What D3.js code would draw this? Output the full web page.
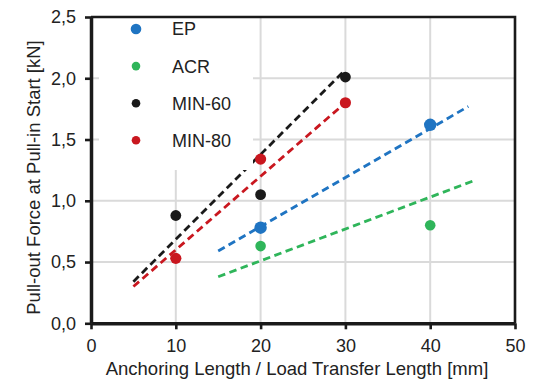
<!DOCTYPE html>
<html>
<head>
<meta charset="utf-8">
<script src="https://cdn.jsdelivr.net/npm/d3@7"></script>
<style>
  html, body { margin: 0; padding: 0; background: #fff; }
  svg { display: block; font-family: "Liberation Sans", Arial, sans-serif; }
</style>
</head>
<body>
<svg id="chart" width="550" height="380"></svg>
<script>
// Pull-out force vs. anchoring length, four adhesive systems
const seriesNames = ["EP", "ACR", "MIN-60", "MIN-80"];
const seriesColors = ["#1f74c2", "#2fb55a", "#1a1a1a", "#c9171f"];

const lengthEP = [20, 40];
const forceEP = [0.78, 1.62];
const lengthACR = [20, 40];
const forceACR = [0.63, 0.80];
const lengthMIN60 = [10, 20, 30];
const forceMIN60 = [0.88, 1.05, 2.01];
const lengthMIN80 = [10, 20, 30];
const forceMIN80 = [0.53, 1.34, 1.80];

// Dashed trend lines (start / end)
const trendLengthEP = [15, 44.5];
const trendForceEP = [0.59, 1.77];
const trendLengthACR = [15, 45];
const trendForceACR = [0.38, 1.16];
const trendLengthMIN60 = [5, 30];
const trendForceMIN60 = [0.34, 2.07];
const trendLengthMIN80 = [5, 30];
const trendForceMIN80 = [0.30, 1.80];

const xTickValues = [0, 10, 20, 30, 40, 50];
const yTickValues = [0, 0.5, 1.0, 1.5, 2.0, 2.5];

const xTitle = "Anchoring Length / Load Transfer Length [mm]";
const yTitle = "Pull-out Force at Pull-in Start [kN]";

const points = [
  { name: "EP", x: lengthEP, y: forceEP, tx: trendLengthEP, ty: trendForceEP, r: 6.2 },
  { name: "ACR", x: lengthACR, y: forceACR, tx: trendLengthACR, ty: trendForceACR, r: 5.3 },
  { name: "MIN-60", x: lengthMIN60, y: forceMIN60, tx: trendLengthMIN60, ty: trendForceMIN60, r: 5.4 },
  { name: "MIN-80", x: lengthMIN80, y: forceMIN80, tx: trendLengthMIN80, ty: trendForceMIN80, r: 5.6 }
];

const svg = d3.select("#chart");
const plotLeft = 91, plotRight = 515, plotTop = 17, plotBottom = 323.3;
const textColor = "#222";

const x = d3.scaleLinear().domain([0, 50]).range([plotLeft, plotRight]);
const y = d3.scaleLinear().domain([0, 2.5]).range([plotBottom, plotTop]);
const color = d3.scaleOrdinal().domain(seriesNames).range(seriesColors);

const locale = d3.formatLocale({ decimal: ",", thousands: ".", grouping: [3], currency: ["", "€"] });
const fmtY = locale.format(".1f");

// Grid
const grid = svg.append("g");
grid.selectAll("line.v").data(xTickValues.slice(1, -1)).join("line")
  .attr("class", "v")
  .attr("x1", d => x(d)).attr("x2", d => x(d))
  .attr("y1", plotTop).attr("y2", plotBottom)
  .attr("stroke", "#dadada").attr("stroke-width", 2);
grid.selectAll("line.h").data(yTickValues.slice(1, -1)).join("line")
  .attr("class", "h")
  .attr("x1", plotLeft).attr("x2", plotRight)
  .attr("y1", d => y(d)).attr("y2", d => y(d))
  .attr("stroke", "#dadada").attr("stroke-width", 2);

// Trend lines
const line = d3.line().x(d => x(d[0])).y(d => y(d[1]));
svg.append("g").selectAll("path").data(points).join("path")
  .attr("d", s => line(s.tx.map((v, i) => [v, s.ty[i]])))
  .attr("fill", "none")
  .attr("stroke", s => color(s.name))
  .attr("stroke-width", 2.8)
  .attr("stroke-dasharray", "7.5,4.5");

// Legend (opaque box above grid and trend lines)
const legend = svg.append("g");
legend.append("rect")
  .attr("x", 99).attr("y", plotTop + 1).attr("width", 154).attr("height", 152)
  .attr("fill", "#fff");
const legendRows = legend.selectAll("g.row").data(seriesNames).join("g")
  .attr("class", "row")
  .attr("transform", (d, i) => `translate(136, ${29 + i * 37.1})`);
legendRows.append("circle")
  .attr("r", (d, i) => i === 0 ? 5.3 : 4.3)
  .attr("fill", d => color(d));
legendRows.append("text")
  .attr("x", 36).attr("dy", "0.36em")
  .attr("font-size", 18).attr("fill", textColor)
  .text(d => d);

// Data points
const pg = svg.append("g");
points.forEach(s => {
  pg.append("g").selectAll("circle").data(s.x.map((v, i) => [v, s.y[i]])).join("circle")
    .attr("cx", d => x(d[0])).attr("cy", d => y(d[1]))
    .attr("r", s.r).attr("fill", color(s.name));
});

// Frame top / right
svg.append("path")
  .attr("d", `M${plotLeft},${plotTop}H${plotRight}V${plotBottom}`)
  .attr("fill", "none").attr("stroke", "#1a1a1a").attr("stroke-width", 2.6);

// Axes
const xAxis = svg.append("g").attr("transform", `translate(0,${plotBottom})`)
  .call(d3.axisBottom(x).tickValues(xTickValues).tickSize(6).tickSizeOuter(0).tickPadding(10).tickFormat(d3.format("d")));
const yAxis = svg.append("g").attr("transform", `translate(${plotLeft},0)`)
  .call(d3.axisLeft(y).tickValues(yTickValues).tickSize(6).tickSizeOuter(0).tickPadding(9).tickFormat(fmtY));

[xAxis, yAxis].forEach(a => {
  a.select(".domain").attr("stroke", "#1a1a1a").attr("stroke-width", 3.5);
  a.selectAll(".tick line").attr("stroke", "#1a1a1a").attr("stroke-width", 2.6);
  a.selectAll(".tick text").attr("font-size", 18).attr("fill", textColor)
    .attr("font-family", "Liberation Sans, Arial, sans-serif");
});

// Axis titles
svg.append("text")
  .attr("x", 297).attr("y", 375)
  .attr("text-anchor", "middle").attr("font-size", 18.5).attr("fill", textColor)
  .text(xTitle);
svg.append("text")
  .attr("transform", `translate(39.5,177.5) rotate(-90)`)
  .attr("text-anchor", "middle").attr("font-size", 18.5).attr("fill", textColor)
  .text(yTitle);
</script>
</body>
</html>
